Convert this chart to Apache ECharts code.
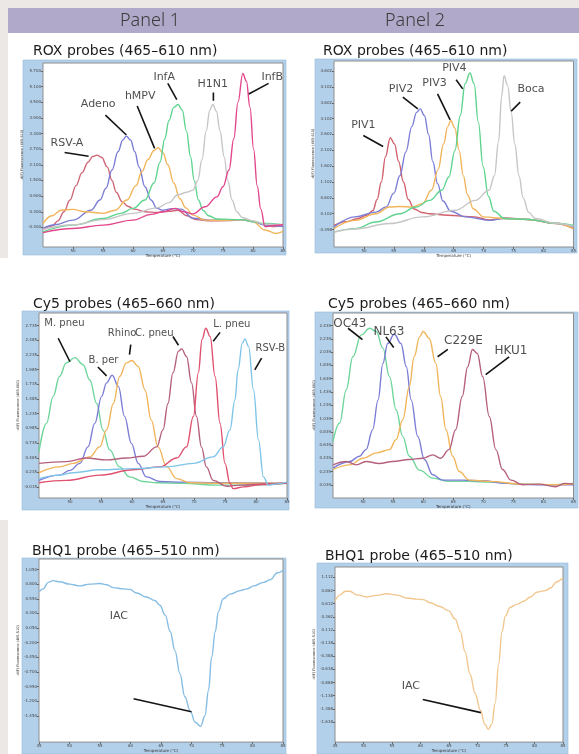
<!DOCTYPE html>
<html>
<head>
<meta charset="utf-8">
<script src="https://cdn.jsdelivr.net/npm/echarts@6/dist/echarts.min.js"></script>
<style>
html, body { margin: 0; padding: 0; background: #ebe8e5; }
#main { width: 579px; height: 754px; }
</style>
</head>
<body>
<div id="main"></div>
<script>
// ---- ROX panel 1 : [temperature, -d(F)/dT] ----
var rsvA = [[45,-0.38],[46.5,-0.25],[47.5,-0.05],[48.5,0.3],[49.5,0.75],[50.5,1.3],[51.5,1.8],[52.5,2.2],[53.3,2.42],[54,2.47],[54.8,2.38],[55.7,2.02],[56.5,1.5],[57.2,1.05],[58.2,0.68],[59.2,0.5],[60.2,0.4],[62,0.3],[64,0.27],[66,0.32],[67.5,0.36],[69,0.15],[70.5,0.0],[73,-0.05],[76,-0.04],[78,0.0],[80,-0.06],[82,-0.2],[83.5,-0.27],[85,-0.22]];
var adeno = [[45,-0.34],[47,-0.2],[50,-0.02],[53,0.36],[54.5,0.75],[55.5,1.2],[56.5,1.9],[57.5,2.6],[58.3,3.05],[58.9,3.2],[59.6,3.05],[60.3,2.6],[61,2.02],[62,1.26],[63,0.75],[64,0.43],[65,0.36],[66.5,0.42],[68,0.4],[70,0.05],[73,-0.02],[75,-0.02],[78,0.0],[80,-0.08],[82,-0.21],[85,-0.27]];
var hmpv = [[45,-0.15],[46.5,0.15],[48,0.36],[50,0.39],[52,0.3],[55,0.24],[57,0.36],[59,0.75],[60.5,1.3],[61.5,1.85],[62.5,2.3],[63.5,2.65],[64.2,2.75],[65,2.55],[65.8,2.1],[66.8,1.4],[67.8,0.8],[68.8,0.45],[70,0.17],[72,-0.02],[75,-0.03],[78,0.0],[80,-0.08],[82,-0.4],[83.8,-0.53],[85,-0.45]];
var infA = [[45,-0.47],[50,-0.21],[55,0.04],[58,0.24],[60,0.43],[62,0.75],[63.5,1.4],[64.5,2.2],[65.3,3.1],[66,3.8],[66.8,4.3],[67.5,4.41],[68.2,4.2],[68.9,3.4],[69.6,2.4],[70.2,1.5],[70.9,0.75],[71.7,0.35],[72.6,0.15],[74,0.02],[78,0.0],[80,-0.08],[82,-0.15],[85,-0.2]];
var h1n1 = [[45,-0.38],[50,-0.2],[55,0.0],[60,0.24],[64,0.45],[66,0.65],[67.5,0.95],[69,1.05],[70,1.13],[70.8,1.5],[71.5,2.3],[72.2,3.4],[72.8,4.2],[73.3,4.41],[73.9,4.15],[74.5,3.4],[75.2,2.4],[75.8,1.5],[76.5,0.75],[77.3,0.3],[78.2,0.08],[80,-0.05],[82,-0.18],[85,-0.2]];
var infB = [[45,-0.5],[50,-0.34],[55,-0.21],[60,-0.02],[63,0.2],[65,0.3],[67,0.43],[68.5,0.3],[70,0.22],[72,0.49],[74,0.87],[75,1.26],[76,1.9],[76.8,3.1],[77.5,4.5],[78.3,5.6],[78.9,5.3],[79.5,4.3],[80.1,2.7],[80.7,1.3],[81.3,0.4],[82,-0.27],[83.5,-0.22],[85,-0.2]];

// ---- ROX panel 2 ----
var piv1 = [[45,-0.27],[47,-0.15],[49,-0.05],[50.5,0.05],[51.5,0.2],[52.2,0.55],[52.9,1.1],[53.6,1.9],[54.4,2.5],[55.1,2.3],[55.8,1.75],[56.6,1.1],[57.4,0.55],[58.4,0.25],[59.7,0.14],[61,0.1],[64,0.05],[68.5,0.0],[71,-0.1],[73.5,-0.03],[77.5,-0.08],[82,-0.21],[85,-0.37]];
var piv2 = [[45,-0.32],[48.5,0.0],[52,0.15],[53.7,0.31],[55,0.75],[56,1.3],[57,2.05],[58,2.85],[58.8,3.3],[59.4,3.41],[60.1,3.2],[60.8,2.6],[61.5,1.75],[62.3,1.05],[63.2,0.5],[64.5,0.18],[67,0.0],[71,-0.11],[73.5,-0.05],[77.5,-0.08],[82,-0.2],[85,-0.33]];
var piv3 = [[45,-0.37],[48.5,-0.11],[52,0.1],[54.3,0.31],[56,0.33],[58,0.31],[59.8,0.42],[61.3,0.85],[62.4,1.5],[63.3,2.3],[64,2.85],[64.5,3.04],[65.2,2.8],[65.9,2.1],[66.6,1.3],[67.3,0.7],[68.3,0.25],[70,0.0],[73.5,-0.05],[77.5,-0.08],[82,-0.2],[85,-0.37]];
var piv4 = [[45,-0.48],[48.5,-0.37],[52,-0.16],[56,0.1],[58.7,0.31],[61,0.52],[63,0.84],[64.2,1.26],[65.2,2.1],[66.1,3.2],[66.9,4.2],[67.7,4.54],[68.4,4.2],[69.1,3.0],[69.9,1.6],[70.8,0.65],[71.7,0.18],[73.5,-0.05],[77.5,-0.08],[82,-0.2],[85,-0.27]];
var boca = [[45,-0.48],[48.5,-0.38],[54.3,-0.21],[59.8,0.0],[65.3,0.21],[68.6,0.52],[70.9,0.84],[71.8,1.3],[72.5,2.4],[73,3.8],[73.4,4.46],[74,4.15],[74.6,3.3],[75.2,2.3],[75.9,1.3],[76.6,0.6],[77.5,0.15],[78.6,-0.05],[82,-0.2],[85,-0.3]];

// ---- Cy5 panel 1 ----
var mPneu = [[45,0.59],[46.2,1.07],[47.3,1.53],[48.3,1.87],[49.4,2.1],[50.8,2.19],[52.1,2.07],[53.2,1.81],[54.3,1.41],[55.3,0.96],[56.4,0.62],[58,0.33],[59.6,0.16],[61.8,0.08],[64,0.06],[68.3,0.05],[73.6,0.02],[79,0.02],[85,0.05]];
var bPer = [[45,0.1],[48.3,0.19],[50,0.27],[51.6,0.39],[52.9,0.67],[54,1.07],[55.1,1.53],[55.9,1.76],[56.8,1.89],[57.8,1.7],[58.8,1.19],[59.9,0.73],[61,0.39],[62.3,0.16],[64.5,0.08],[68.3,0.07],[73.6,0.06],[85,0.05]];
var rhino = [[45,0.23],[48.3,0.33],[50.5,0.39],[53.2,0.5],[54.8,0.67],[55.9,0.96],[57,1.41],[58,1.87],[59.1,2.1],[60,2.14],[61,2.04],[62.1,1.64],[63.1,1.13],[64.2,0.67],[65.6,0.33],[67.2,0.13],[69.3,0.06],[73.6,0.05],[85,0.05]];
var cPneu = [[45,0.39],[49.4,0.42],[52.6,0.48],[55.9,0.45],[59.1,0.48],[61.8,0.51],[64,0.67],[65,0.96],[65.8,1.41],[66.6,1.93],[67.5,2.3],[68,2.34],[68.8,2.21],[69.6,1.76],[70.4,1.19],[71.2,0.67],[72,0.33],[73.1,0.1],[75.3,0.0],[77.4,0.02],[81,0.04],[85,0.05]];
var lPneu = [[45,0.06],[49.4,0.1],[54.8,0.19],[60.2,0.28],[64.5,0.33],[67.2,0.48],[68.8,0.67],[69.9,1.19],[70.7,1.93],[71.3,2.5],[71.9,2.69],[72.6,2.55],[73.4,1.87],[74.2,1.07],[75,0.39],[75.8,0.05],[76.3,-0.04],[78,-0.01],[81,0.03],[85,0.06]];
var rsvB = [[45,0.13],[48.3,0.19],[50.5,0.23],[54.8,0.28],[60.2,0.3],[65.6,0.33],[69.9,0.39],[73.1,0.5],[74.7,0.67],[75.8,0.96],[76.6,1.47],[77.1,1.98],[77.8,2.44],[78.2,2.51],[78.8,2.38],[79.6,1.64],[80.4,0.79],[81.2,0.16],[82,0.02],[83.3,0.04],[85,0.07]];

// ---- Cy5 panel 2 ----
var oc43 = [[45,0.69],[46.1,0.97],[47.2,1.47],[48.3,1.97],[49.7,2.3],[51.1,2.4],[52.2,2.35],[53.3,2.1],[54.4,1.67],[55.5,1.17],[56.6,0.77],[57.7,0.47],[59.4,0.26],[61.6,0.14],[64.3,0.09],[67.7,0.09],[71,0.08],[76.5,0.05],[80.9,0.04],[85,0.06]];
var nl63 = [[45,0.29],[47.8,0.39],[49.4,0.47],[50.5,0.57],[51.6,0.87],[52.5,1.32],[53.3,1.87],[54.1,2.17],[55.2,2.31],[56.3,2.17],[57.2,1.82],[58,1.32],[59.1,0.77],[60.2,0.42],[61.6,0.19],[63.2,0.11],[66.5,0.11],[69.9,0.1],[73.7,0.06],[79,0.04],[85,0.04]];
var c229e = [[45,0.27],[47.8,0.34],[50,0.44],[52.2,0.52],[54.4,0.57],[55.5,0.72],[56.6,1.02],[57.7,1.52],[58.5,1.97],[59.4,2.27],[60,2.35],[61,2.25],[62.1,1.87],[62.9,1.37],[63.8,0.87],[64.9,0.47],[66,0.24],[67.7,0.11],[71,0.09],[76.5,0.05],[82,0.04],[85,0.05]];
var hku1 = [[45,0.34],[47.2,0.39],[48.9,0.34],[50.5,0.39],[52.7,0.36],[54.9,0.39],[57.7,0.42],[59.9,0.44],[61.6,0.49],[62.9,0.44],[64.3,0.57],[65.4,0.87],[66.5,1.37],[67.4,1.82],[68.2,2.08],[69,2.02],[69.9,1.67],[71,1.07],[72.1,0.57],[73.2,0.27],[74.6,0.11],[76.5,0.04],[79.3,0.05],[82,0.01],[83.5,0.06],[85,0.05]];

// ---- BHQ1 (internal amplification control) ----
var iac1 = [[45,0.67],[45.7,0.72],[46.5,0.83],[47.3,0.86],[48.4,0.84],[50,0.8],[51.7,0.77],[53.3,0.8],[55,0.81],[56.1,0.79],[57.2,0.74],[58.8,0.72],[59.9,0.71],[61,0.65],[62.6,0.58],[64,0.52],[64.8,0.44],[65.7,0.27],[66.5,-0.01],[67.3,-0.34],[68.1,-0.73],[68.9,-1.12],[69.8,-1.37],[70.6,-1.56],[71.5,-1.63],[72.2,-1.45],[72.8,-1.01],[73.3,-0.45],[73.9,-0.01],[74.4,0.33],[75.2,0.55],[76.3,0.63],[78,0.69],[79.1,0.72],[80.2,0.77],[81.8,0.83],[83,0.88],[84,0.99],[85,1.03]];
var iac2 = [[45,0.66],[45.9,0.78],[46.8,0.85],[47.6,0.85],[48.8,0.78],[50.6,0.74],[52.3,0.77],[54.1,0.8],[55.8,0.78],[57.6,0.72],[59.3,0.7],[60.5,0.69],[61.7,0.63],[63.4,0.56],[64.9,0.48],[66.1,0.32],[67,0.08],[67.8,-0.3],[68.7,-0.73],[69.6,-1.1],[70.5,-1.41],[71.3,-1.68],[71.9,-1.78],[72.5,-1.68],[73.1,-1.28],[73.7,-0.54],[74.3,0.08],[74.9,0.38],[75.7,0.54],[76.9,0.6],[78.1,0.66],[79.3,0.74],[80.4,0.83],[81.9,0.86],[82.8,0.91],[83.9,1.03],[85,1.11]];

// y tick labels
var roxTicks1 = [-0.3,0.3,0.9,1.5,2.1,2.7,3.3,3.9,4.5,5.1,5.7];
var roxTicks2 = [-0.398,0.102,0.602,1.102,1.602,2.102,2.602,3.102,3.602,4.102,4.602];
var cy5Ticks1 = [-0.015,0.235,0.485,0.735,0.985,1.235,1.485,1.735,1.985,2.235,2.485,2.735];
var cy5Ticks2 = [0.039,0.239,0.439,0.639,0.839,1.039,1.239,1.439,1.639,1.839,2.039,2.239,2.439];
var bhqTicks1 = [-1.45,-1.2,-0.95,-0.7,-0.45,-0.2,0.05,0.3,0.55,0.8,1.05];
var bhqTicks2 = [-1.638,-1.388,-1.138,-0.888,-0.638,-0.388,-0.138,0.112,0.362,0.612,0.862,1.112];

// annotations: [text, textT, textV, lineT1, lineV1, lineT2, lineV2]
var rox1Notes = [["RSV-A",49,2.92,48.6,2.57,52.6,2.43],["Adeno",54.2,4.41,55.4,4.0,58.9,3.24],["hMPV",61.2,4.73,60.7,4.35,63.6,2.73],["InfA",65.2,5.47,65.8,5.22,67.3,4.6],["H1N1",73.3,5.19,73.4,4.87,73.4,4.55],["InfB",83.2,5.47,82.6,5.22,79.3,4.81]];
var rox2Notes = [["PIV1",49.9,2.89,49.9,2.57,53.2,2.22],["PIV2",56.2,4.04,56.5,3.78,59.0,3.41],["PIV3",61.8,4.22,62.3,3.88,64.4,3.06],["PIV4",65.1,4.68,65.4,4.33,66.5,4.04],["Boca",77.9,4.02,76.1,3.62,74.6,3.34]];
var cy5Notes1 = [["M. pneu",49.1,2.78,48.1,2.52,50.0,2.12],["B. per",55.4,2.14,54.5,2.03,55.9,1.88],["Rhino",58.4,2.61,59.8,2.41,59.6,2.24],["C. pneu",63.6,2.61,66.6,2.55,67.5,2.40],["L. pneu",76.1,2.75,74.2,2.62,73.1,2.47],["RSV-B",82.3,2.34,80.9,2.18,79.8,1.98]];
var cy5Notes2 = [["OC43",47.8,2.46,47.5,2.40,49.9,2.23],["NL63",54.3,2.35,53.8,2.27,55.1,2.11],["C229E",66.7,2.21,64.1,2.08,62.4,1.97],["HKU1",74.6,2.06,74.3,1.97,70.4,1.70]];
var bhqNotes1 = [["IAC",58.1,0.26,60.5,-1.16,70,-1.38]];
var bhqNotes2 = [["IAC",58.3,-0.96,60.4,-1.21,70.6,-1.46]];

var FONT = "DejaVu Sans";

var panels = [
  { title: "ROX probes (465–610 nm)", tx: 33, ty: 44, grid: [43, 63, 240, 184], frame: [23, 60, 263, 195],
    yMin: -1.05, yMax: 6.0, ticks: roxTicks1, yName: "-d(F) Fluorescence (465-610)", showMin: false, noteSize: 11, notes: rox1Notes,
    curves: [[rsvA, "#cf6677"], [adeno, "#7c7ed6"], [hmpv, "#f1b55c"], [infA, "#5fd490"], [h1n1, "#c6c6c6"], [infB, "#e2478c"]] },
  { title: "ROX probes (465–610 nm)", tx: 323, ty: 44, grid: [334, 61, 241, 186], frame: [315, 59, 262, 194],
    yMin: -0.95, yMax: 4.92, ticks: roxTicks2, yName: "-d(F) Fluorescence (465-610)", showMin: false, noteSize: 11, notes: rox2Notes,
    curves: [[piv1, "#d0606c"], [piv2, "#7c7ed6"], [piv3, "#f1b55c"], [piv4, "#5fd490"], [boca, "#c6c6c6"]] },
  { title: "Cy5 probes (465–660 nm)", tx: 33, ty: 297, grid: [39, 313, 248, 185], frame: [22, 311, 267, 199],
    yMin: -0.2, yMax: 2.95, ticks: cy5Ticks1, yName: "-d(F) Fluorescence (465-660)", showMin: false, noteSize: 10, notes: cy5Notes1,
    curves: [[mPneu, "#6fd59b"], [bPer, "#7c7ed6"], [rhino, "#f1b55c"], [cPneu, "#b5607f"], [lPneu, "#e0506f"], [rsvB, "#7fc5e9"]] },
  { title: "Cy5 probes (465–660 nm)", tx: 328, ty: 297, grid: [333, 313, 242, 185], frame: [315, 312, 263, 196],
    yMin: -0.16, yMax: 2.63, ticks: cy5Ticks2, yName: "-d(F) Fluorescence (465-660)", showMin: false, noteSize: 12, notes: cy5Notes2,
    curves: [[oc43, "#6fd59b"], [nl63, "#7c7ed6"], [c229e, "#f1b55c"], [hku1, "#b5607f"]] },
  { title: "BHQ1 probe (465–510 nm)", tx: 32, ty: 544, grid: [39, 559, 244, 188], frame: [22, 558, 264, 196],
    yMin: -1.9, yMax: 1.23, ticks: bhqTicks1, yName: "-d(F) Fluorescence (465-510)", showMin: true, noteSize: 11, notes: bhqNotes1,
    curves: [[iac1, "#86bde4"]] },
  { title: "BHQ1 probe (465–510 nm)", tx: 325, ty: 549, grid: [335, 567, 228, 180], frame: [317, 563, 251, 191],
    yMin: -2.02, yMax: 1.31, ticks: bhqTicks2, yName: "-d(F) Fluorescence (465-510)", showMin: true, noteSize: 11, notes: bhqNotes2,
    curves: [[iac2, "#f1c78f"]] }
];

var grids = [], xAxes = [], yAxes = [], series = [], titles = [];
var graphics = [
  { type: "rect", shape: { x: 8, y: 33, width: 571, height: 721 }, style: { fill: "#ffffff" }, z: -10 },
  { type: "rect", shape: { x: 0, y: 258, width: 8, height: 262 }, style: { fill: "#ffffff" }, z: -10 },
  { type: "rect", shape: { x: 8, y: 8, width: 571, height: 25 }, style: { fill: "#b0a9c9" }, z: -10 },
  { type: "text", x: 150, y: 21, style: { text: "Panel 1", font: "300 18px 'Noto Sans'", fill: "#3b3b3b", textAlign: "center", textVerticalAlign: "middle" }, z: -5 },
  { type: "text", x: 415, y: 21, style: { text: "Panel 2", font: "300 18px 'Noto Sans'", fill: "#3b3b3b", textAlign: "center", textVerticalAlign: "middle" }, z: -5 }
];

panels.forEach(function (p, i) {
  titles.push({ text: p.title, left: p.tx, top: p.ty, padding: 0,
    textStyle: { fontSize: 14, fontWeight: "normal", color: "#1c1c1c", fontFamily: FONT } });
  graphics.push({ type: "rect", shape: { x: p.frame[0], y: p.frame[1], width: p.frame[2], height: p.frame[3] },
    style: { fill: "#b3d0ea", stroke: "#98b9d6", lineWidth: 0.6 }, z: -8 });
  grids.push({ left: p.grid[0], top: p.grid[1], width: p.grid[2], height: p.grid[3], show: true,
    backgroundColor: "#ffffff", borderColor: "#8e8e8e", borderWidth: 1 });
  xAxes.push({ gridIndex: i, type: "value", min: 45, max: 85, interval: 5,
    name: "Temperature (°C)", nameLocation: "middle", nameGap: 6,
    nameTextStyle: { fontSize: 4, color: "#333", fontFamily: FONT },
    axisLine: { show: false, onZero: false }, splitLine: { show: false },
    axisTick: { show: true, length: 2, lineStyle: { color: "#666" } },
    axisLabel: { fontSize: 4, color: "#444", margin: 2, showMinLabel: p.showMin, fontFamily: FONT } });
  yAxes.push({ gridIndex: i, type: "value", min: p.yMin, max: p.yMax,
    name: p.yName, nameLocation: "middle", nameRotate: 90, nameGap: 14,
    nameTextStyle: { fontSize: 3.5, color: "#333", fontFamily: FONT },
    axisLine: { show: false, onZero: false }, splitLine: { show: false },
    axisTick: { show: true, length: 2, customValues: p.ticks, lineStyle: { color: "#666" } },
    axisLabel: { fontSize: 4, color: "#444", margin: 2, customValues: p.ticks, fontFamily: FONT,
      formatter: function (v) { return v.toFixed(3); } } });

  p.curves.forEach(function (c) {
    series.push({ type: "line", xAxisIndex: i, yAxisIndex: i, data: c[0], smooth: 0.4, smoothMonotone: "x",
      symbol: "none", silent: true, lineStyle: { width: 1.4, color: c[1] }, z: 2 });
  });
  p.notes.forEach(function (n) {
    series.push({ type: "line", xAxisIndex: i, yAxisIndex: i, data: [[n[3], n[4]], [n[5], n[6]]],
      symbol: "none", silent: true, lineStyle: { width: 1.6, color: "#141414" }, z: 3 });
  });
  series.push({ type: "scatter", xAxisIndex: i, yAxisIndex: i, symbolSize: 1, silent: true,
    itemStyle: { color: "transparent" },
    data: p.notes.map(function (n) { return { name: n[0], value: [n[1], n[2]] }; }),
    label: { show: true, position: "inside", formatter: "{b}", fontSize: p.noteSize, color: "#222", fontFamily: FONT },
    z: 4 });
});

var chart = echarts.init(document.getElementById("main"), null, { renderer: "canvas" });
chart.setOption({
  animation: false,
  backgroundColor: "#ebe8e5",
  title: titles,
  graphic: graphics,
  grid: grids,
  xAxis: xAxes,
  yAxis: yAxes,
  series: series
});
</script>
</body>
</html>
